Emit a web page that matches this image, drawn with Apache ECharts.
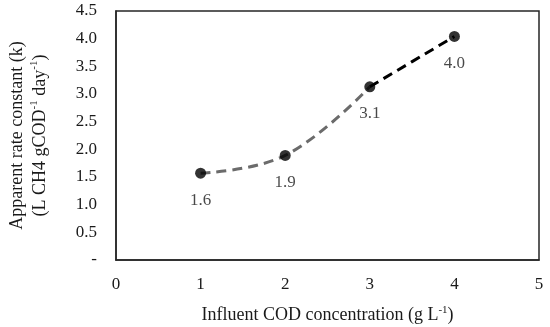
<!DOCTYPE html>
<html><head><meta charset="utf-8">
<script src="https://cdn.jsdelivr.net/npm/echarts@6/dist/echarts.min.js"></script>
<style>html,body{margin:0;padding:0;background:#fff}#c{width:550px;height:327px}</style>
</head><body><div id="c"></div>
<script>
var xValues = [1, 2, 3, 4];
var kValues = [1.57, 1.89, 3.13, 4.04];
var grayIdx = [0, 1, 2];
var blackIdx = [2, 3];
var yTicks = {min: 0, max: 4.5, interval: 0.5};
var xTicks = {min: 0, max: 5, interval: 1};

var pts = xValues.map(function (x, i) { return [x, kValues[i]]; });
var F = 'Liberation Serif';
var chart = echarts.init(document.getElementById('c'), null, {renderer: 'canvas'});
chart.setOption({
  animation: false,
  grid: {left: 116, right: 11, top: 11, bottom: 67, containLabel: false, outerBoundsMode: 'none',
    show: true, borderColor: '#262626', borderWidth: 1.5, backgroundColor: 'transparent'},
  xAxis: {
    type: 'value', min: xTicks.min, max: xTicks.max, interval: xTicks.interval,
    axisLine: {show: true, lineStyle: {color: '#262626', width: 1.5}},
    axisTick: {show: false}, splitLine: {show: false},
    axisLabel: {color: '#1a1a1a', fontFamily: F, fontSize: 17, margin: 16},
    name: 'Influent COD concentration (g L{sup|-1})',
    nameLocation: 'middle', nameGap: 45,
    nameTextStyle: {color: '#1a1a1a', fontFamily: F, fontSize: 18,
      rich: {sup: {fontFamily: F, fontSize: 11, verticalAlign: 'top', padding: [0, 0, 9, 0]}}}
  },
  yAxis: {
    type: 'value', min: yTicks.min, max: yTicks.max, interval: yTicks.interval,
    axisLine: {show: true, lineStyle: {color: '#262626', width: 1.5}},
    axisTick: {show: false}, splitLine: {show: false},
    axisLabel: {color: '#1a1a1a', fontFamily: F, fontSize: 17, margin: 19,
      formatter: function (v) { return v === 0 ? '-' : v.toFixed(1); }},
    name: 'Apparent rate constant (k)\n(L CH4 gCOD{sup|-1} day{sup|-1})',
    nameLocation: 'middle', nameGap: 64,
    nameTextStyle: {color: '#1a1a1a', fontFamily: F, fontSize: 18, lineHeight: 23,
      rich: {sup: {fontFamily: F, fontSize: 11, verticalAlign: 'top', padding: [0, 0, 9, 0]}}}
  },
  series: [
    {type: 'line', smooth: 0.4, symbol: 'none', data: grayIdx.map(function (i) { return pts[i]; }),
      lineStyle: {color: '#6b6b6b', width: 3, type: [10, 6]}, z: 2},
    {type: 'line', smooth: 0.4, symbol: 'none', data: blackIdx.map(function (i) { return pts[i]; }),
      lineStyle: {color: '#000', width: 3, type: [10, 6]}, z: 2},
    {type: 'scatter', data: pts, symbolSize: 11, itemStyle: {color: '#000'}, z: 3,
      label: {show: true, position: 'bottom', distance: 13, color: '#1a1a1a', fontFamily: F, fontSize: 17,
        formatter: function (p) { return p.value[1].toFixed(1); }}}
  ]
});
</script></body></html>
